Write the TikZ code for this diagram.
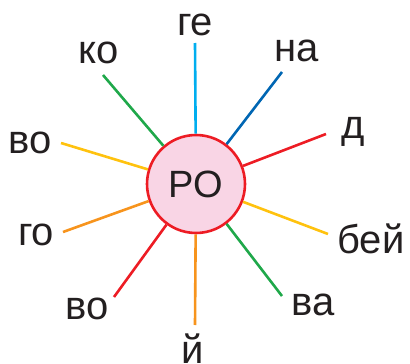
\documentclass[tikz,border=0pt]{standalone}
\usepackage{fontspec}
\setmainfont{Liberation Sans}
\definecolor{txtdark}{HTML}{231F20}
\definecolor{rored}{HTML}{ED1C24}
\definecolor{ropink}{HTML}{F9D5E5}
\definecolor{raycyan}{HTML}{00AEEF}
\definecolor{raygreen}{HTML}{1FA84A}
\definecolor{rayblue}{HTML}{0066B3}
\definecolor{rayyellow}{HTML}{FFC20E}
\definecolor{rayorange}{HTML}{F7941D}

\begin{document}
\begin{tikzpicture}[x=1pt, y=-1pt, every node/.style={font=\fontsize{40}{44}\selectfont, text=txtdark}, ray/.style={line width=2.6pt}]
	\useasboundingbox (0,0) rectangle (410,364);
	\node[circle, draw=rored, fill=ropink, line width=2.6pt, minimum size=98pt, inner sep=0pt, font=\fontsize{38}{42}\selectfont] (ro) at (196,184) {РО};
	\foreach \name/\txt/\ex/\ey/\lx/\ly/\col in {ge/ге/195/43/195/35/raycyan, ko/ко/103/75/99/63/raygreen, na/на/282/72/297/61/rayblue, d/д/326/134/353/138/rored, vo/во/61/143/30/153/rayyellow, go/го/63/232/36/245/rayorange, vob/во/114/297/87/319/rored, j/й/195/325/193/363/rayorange, va/ва/282/296/313/315/raygreen, bej/бей/328/234/371/253/rayyellow} {
		\coordinate (e\name) at (\ex,\ey);
		\node[anchor=base] (l\name) at (\lx,\ly) {\txt};
		\draw[ray, \col] (ro) -- (e\name);
	}
\end{tikzpicture}
\end{document}
